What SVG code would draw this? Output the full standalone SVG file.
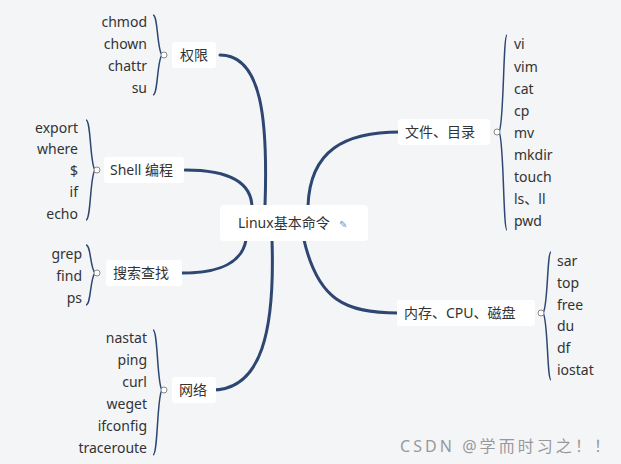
<svg xmlns="http://www.w3.org/2000/svg" width="621" height="464" viewBox="0 0 621 464">
<style>
text{font-family:"Noto Sans","Noto Sans CJK SC",sans-serif;font-size:14px;fill:#333}
.c{fill:none;stroke:#2e4672;stroke-width:3;stroke-linecap:round}
.b{fill:none;stroke:#2e4672;stroke-width:1.5}
.o{fill:#fff;stroke:#888;stroke-width:1}
.bx{fill:#fff}
.r{text-anchor:end}
</style>
<rect width="621" height="464" fill="#f4f5f7"/>
<g id="connectors">
<path class="c" d="M265,206 C268,120 262,55 220,55"/>
<path class="c" d="M252,208 C252,180 225,170 185,170"/>
<path class="c" d="M246,240 C242,262 222,273 182,273"/>
<path class="c" d="M272,240 C275,330 262,390 212,390"/>
<path class="c" d="M308,206 C310,150 345,132 400,132"/>
<path class="c" d="M304,240 C318,300 345,313 398,313"/>
<path class="b" d="M153,15 C158,15 157,50 162,55 C157,60 158,95 153,95"/>
<path class="b" d="M86,120 C91,120 90,165 95,170 C90,175 91,220 86,220"/>
<path class="b" d="M86,245 C91,245 90,268 95,273 C90,278 91,305 86,305"/>
<path class="b" d="M153,330 C158,330 157,385 162,390 C157,395 158,455 153,455"/>
<path class="b" d="M507,35 C503,35 504,127 499,132 C504,137 503,230 507,230"/>
<path class="b" d="M551,252 C547,252 548,308 543,313 C548,318 547,380 551,380"/>
<circle class="o" cx="164" cy="55" r="3"/>
<circle class="o" cx="97" cy="170" r="3"/>
<circle class="o" cx="97" cy="273" r="3"/>
<circle class="o" cx="164" cy="390" r="3"/>
<circle class="o" cx="497" cy="132" r="3"/>
<circle class="o" cx="541" cy="313" r="3"/>
</g>
<g id="center"><rect class="bx" x="220" y="205" width="148" height="36" rx="4"/><text x="238" y="228">Linux基本命令</text><text x="339" y="228" style="font-size:10px;fill:#6a9ad8">✎</text></g>
<g id="n-quanxian"><rect class="bx" x="172" y="42" width="44" height="26" rx="3"/><text x="180" y="60">权限</text>
<text class="r" x="147" y="27">chmod</text><text class="r" x="147" y="49">chown</text><text class="r" x="147" y="71">chattr</text><text class="r" x="147" y="93">su</text></g>
<g id="n-shell"><rect class="bx" x="104" y="157" width="80" height="26" rx="3"/><text x="110" y="175">Shell 编程</text>
<text class="r" x="78" y="133">export</text><text class="r" x="78" y="154">where</text><text class="r" x="78" y="176">$</text><text class="r" x="78" y="197">if</text><text class="r" x="78" y="219">echo</text></g>
<g id="n-search"><rect class="bx" x="106" y="260" width="76" height="26" rx="3"/><text x="113" y="278">搜索查找</text>
<text class="r" x="82" y="259">grep</text><text class="r" x="82" y="281">find</text><text class="r" x="82" y="303">ps</text></g>
<g id="n-net"><rect class="bx" x="172" y="377" width="44" height="26" rx="3"/><text x="179" y="395">网络</text>
<text class="r" x="147" y="343">nastat</text><text class="r" x="147" y="365">ping</text><text class="r" x="147" y="387">curl</text><text class="r" x="147" y="409">weget</text><text class="r" x="147" y="431">ifconfig</text><text class="r" x="147" y="453">traceroute</text></g>
<g id="n-file"><rect class="bx" x="398" y="119" width="92" height="26" rx="3"/><text x="405" y="137">文件、目录</text>
<text x="514" y="49">vi</text><text x="514" y="72">vim</text><text x="514" y="94">cat</text><text x="514" y="116">cp</text><text x="514" y="138">mv</text><text x="514" y="160">mkdir</text><text x="514" y="182">touch</text><text x="514" y="204">ls、ll</text><text x="514" y="226">pwd</text></g>
<g id="n-mem"><rect class="bx" x="397" y="300" width="138" height="26" rx="3"/><text x="404" y="318">内存、CPU、磁盘</text>
<text x="557" y="266">sar</text><text x="557" y="288">top</text><text x="557" y="310">free</text><text x="557" y="331">du</text><text x="557" y="353">df</text><text x="557" y="375">iostat</text></g>
<text x="400" y="452" textLength="210" style="fill:#999;font-size:16px">CSDN @学而时习之！！</text>
</svg>
